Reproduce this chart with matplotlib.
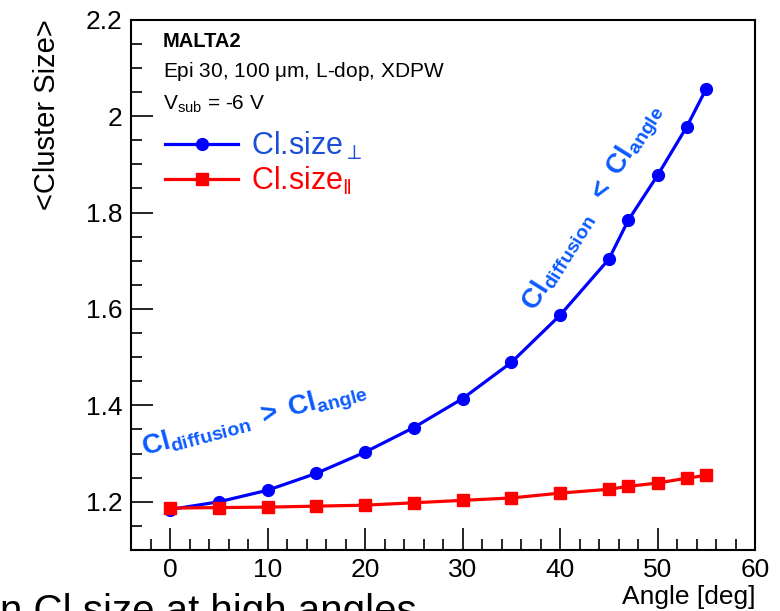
import numpy as np
import matplotlib
matplotlib.use("Agg")
import matplotlib.pyplot as plt
from matplotlib.ticker import MultipleLocator

# cluster size vs incidence angle, MALTA2
angles = [0, 5, 10, 15, 20, 25, 30, 35, 40, 45, 47, 50, 53, 55]
size_perp = [1.184, 1.200, 1.224, 1.259, 1.303, 1.354, 1.414, 1.489,
             1.587, 1.703, 1.784, 1.877, 1.978, 2.057]
size_par = [1.187, 1.188, 1.189, 1.191, 1.193, 1.198, 1.203, 1.208,
            1.218, 1.226, 1.232, 1.239, 1.249, 1.255]

plt.rcParams['font.family'] = ['Liberation Sans', 'DejaVu Sans']
plt.rcParams['mathtext.fontset'] = 'custom'
plt.rcParams['mathtext.rm'] = 'Liberation Sans'
plt.rcParams['mathtext.it'] = 'Liberation Sans:italic'
plt.rcParams['mathtext.bf'] = 'Liberation Sans:bold'

fig = plt.figure(figsize=(7.8, 6.11), dpi=100)
ax = fig.add_axes([0.168, 0.0998, 0.8, 0.868])

ax.plot(angles, size_perp, color='#0000ff', lw=2.3, marker='o', ms=8.5,
        label=r'Cl.size$_{\perp}$')
ax.plot(angles, size_par, color='#ff0000', lw=2.3, marker='s', ms=9,
        label=r'Cl.size$_{\Vert}$')

ax.set_xlim(-4, 60)
ax.set_ylim(1.1, 2.2)
ax.xaxis.set_major_locator(MultipleLocator(10))
ax.xaxis.set_minor_locator(MultipleLocator(2))
ax.yaxis.set_major_locator(MultipleLocator(0.2))
ax.yaxis.set_minor_locator(MultipleLocator(0.05))
ax.yaxis.set_major_formatter(plt.FuncFormatter(lambda v, p: f'{v:g}'))
ax.tick_params(which='both', direction='in', top=False, right=False,
               labelsize=19, width=1.2)
ax.tick_params(which='major', length=16, pad=6)
ax.tick_params(which='minor', length=8)
for s in ax.spines.values():
    s.set_linewidth(1.5)

ax.set_xlabel('Angle [deg]', fontsize=19, loc='right', labelpad=2)
ax.set_ylabel('<Cluster Size>', fontsize=21, loc='top', labelpad=18)

ax.text(0.051, 0.958, 'MALTA2', transform=ax.transAxes, fontsize=14.5,
        fontweight='bold', va='center')
ax.text(0.051, 0.902, r'Epi 30, 100 $\mathrm{\mu}$m, L-dop, XDPW',
        transform=ax.transAxes, fontsize=15, va='center')
ax.text(0.051, 0.840, r'V$_{\mathrm{sub}}$ = -6 V', transform=ax.transAxes,
        fontsize=15, va='center')

leg = ax.legend(loc='upper left', bbox_to_anchor=(0.035, 0.815), frameon=False,
                fontsize=22, handlelength=2.4, handletextpad=0.4,
                labelspacing=0.1, borderaxespad=0, labelcolor=['#1a4fd6', '#ff0000'])

ax.text(0.199, 0.245, r'$\mathbf{Cl}_{\mathbf{diffusion}}\ \mathbf{>}\ \mathbf{Cl}_{\mathbf{angle}}$',
        transform=ax.transAxes, fontsize=20, color='#0a5aff', rotation=15,
        ha='center', va='center')
ax.text(0.742, 0.645, r'$\mathbf{Cl}_{\mathbf{diffusion}}\ \ \mathbf{<}\ \mathbf{Cl}_{\mathbf{angle}}$',
        transform=ax.transAxes, fontsize=20, color='#0a5aff', rotation=58,
        ha='center', va='center')

# slide text cut off at the bottom of the screenshot
fig.text(0.0, -0.02, 'n Cl size at high angles', fontsize=29, va='baseline')

fig.savefig('out.png', dpi=100)
